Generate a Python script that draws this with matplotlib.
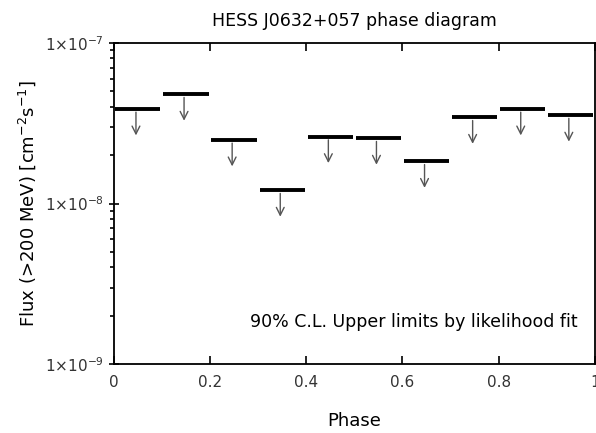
import numpy as np
import matplotlib.pyplot as plt
from matplotlib.ticker import FixedLocator, LogLocator, NullFormatter

# phase bins and 90% C.L. upper limits (cm^-2 s^-1)
phase_lo = [0.0, 0.1, 0.2, 0.3, 0.4, 0.5, 0.6, 0.7, 0.8, 0.9]
phase_hi = [0.1, 0.2, 0.3, 0.4, 0.5, 0.6, 0.7, 0.8, 0.9, 1.0]
flux_ul = [3.88e-8, 4.79e-8, 2.49e-8, 1.21e-8, 2.61e-8,
           2.55e-8, 1.83e-8, 3.44e-8, 3.88e-8, 3.55e-8]

fig = plt.figure(figsize=(5.96, 4.33), dpi=100)
ax = fig.add_axes([0.191, 0.159, 0.807, 0.742])

for lo, hi, f in zip(phase_lo, phase_hi, flux_ul):
    ax.plot([lo + 0.003, hi - 0.003], [f, f], color='black', lw=2.8, solid_capstyle='butt')
    xc = 0.5 * (lo + hi) - 0.004
    ax.annotate('', xy=(xc, f * 10**-0.165), xytext=(xc, f * 10**-0.02),
                arrowprops=dict(arrowstyle='->', color='#555555', lw=1.0,
                                mutation_scale=14, shrinkA=0, shrinkB=0))

ax.set_yscale('log')
ax.set_xlim(0, 1)
ax.set_ylim(1e-9, 1e-7)

ax.xaxis.set_major_locator(FixedLocator([0, 0.2, 0.4, 0.6, 0.8, 1.0]))
ax.set_xticklabels(['0', '0.2', '0.4', '0.6', '0.8', '1'])
ax.yaxis.set_major_locator(FixedLocator([1e-9, 1e-8, 1e-7]))
ax.set_yticklabels([r'1$\times$10$^{-9}$', r'1$\times$10$^{-8}$', r'1$\times$10$^{-7}$'])
ax.yaxis.set_minor_locator(LogLocator(base=10, subs=np.arange(2, 10)))
ax.yaxis.set_minor_formatter(NullFormatter())

ax.tick_params(axis='x', which='major', direction='in', top=True, bottom=True,
               length=6, width=1.2, labelsize=11, labelcolor='#333333', pad=8)
ax.tick_params(axis='y', which='major', direction='inout', left=True, right=False,
               length=7, width=1.2, labelsize=11, labelcolor='#333333')
ax.tick_params(axis='y', which='minor', direction='out', left=True, right=False,
               length=3, width=1.2)
for s in ax.spines.values():
    s.set_linewidth(1.3)

ax.set_title('HESS J0632+057 phase diagram', fontsize=12.5, pad=12)
ax.set_xlabel('Phase', fontsize=13, labelpad=16)
ax.set_ylabel(r'Flux (>200 MeV) [cm$^{-2}$s$^{-1}$]', fontsize=13, labelpad=5)
ax.text(0.965, 1.83e-9, '90% C.L. Upper limits by likelihood fit', fontsize=12.5,
        ha='right', va='center')

fig.savefig('out.png', dpi=100)
